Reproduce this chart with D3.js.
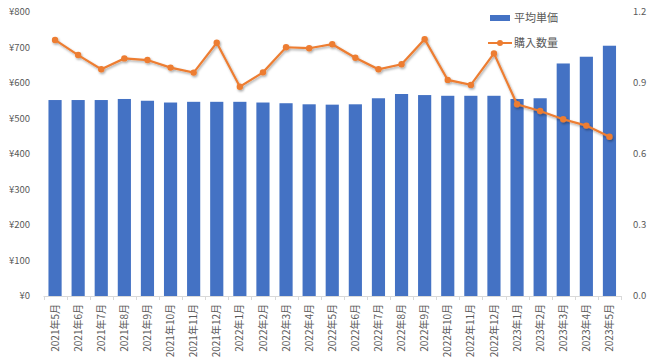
<!DOCTYPE html>
<html><head><meta charset="utf-8">
<script src="https://cdn.jsdelivr.net/npm/d3@7"></script>
<style>
body{margin:0;background:#fff;}
svg{display:block;font-family:"Noto Sans CJK JP","Noto Sans",sans-serif;}
</style></head>
<body>
<svg id="c" width="650" height="362"></svg>
<script>
const categories = ["2021年5月","2021年6月","2021年7月","2021年8月","2021年9月","2021年10月","2021年11月","2021年12月","2022年1月","2022年2月","2022年3月","2022年4月","2022年5月","2022年6月","2022年7月","2022年8月","2022年9月","2022年10月","2022年11月","2022年12月","2023年1月","2023年2月","2023年3月","2023年4月","2023年5月"];
const avgPrice = [552,552,552,555,550,545,547,547,547,545,543,540,539,540,557,569,566,564,564,564,555,557,655,674,705];
const quantity = [1.082,1.018,0.958,1.004,0.997,0.965,0.944,1.070,0.884,0.945,1.051,1.047,1.064,1.007,0.958,0.979,1.085,0.913,0.892,1.025,0.810,0.782,0.747,0.720,0.673];
const leftTicks = [0,100,200,300,400,500,600,700,800];
const rightTicks = [0,0.3,0.6,0.9,1.2];
const seriesNames = ["平均単価","購入数量"];

(function(){
const svg = d3.select("#c");
const pL = 43.5, pR = 621, pT = 12, pB = 296;
const x = d3.scaleBand().domain(categories).range([pL, pR]).paddingInner(0.43).paddingOuter(0.215);
const yL = d3.scaleLinear().domain([0,800]).range([pB, pT]);
const yR = d3.scaleLinear().domain([0,1.2]).range([pB, pT]);
const blue = "#4472C4", orange = "#ED7D31", txt = "#595959";

const defs = svg.append("defs");
const f = defs.append("filter").attr("id","sh").attr("x","-10%").attr("y","-10%").attr("width","120%").attr("height","140%");
f.append("feDropShadow").attr("dx",1).attr("dy",1.5).attr("stdDeviation",1.2).attr("flood-color","#000").attr("flood-opacity",0.35);

svg.append("g").selectAll("rect").data(avgPrice).join("rect")
  .attr("x",(d,i)=>x(categories[i]))
  .attr("width",x.bandwidth())
  .attr("y",d=>yL(d))
  .attr("height",d=>yL(0)-yL(d))
  .attr("fill",blue);

const step = x.step();
svg.append("line").attr("x1",pL).attr("x2",pR).attr("y1",pB+0.5).attr("y2",pB+0.5).attr("stroke","#d9d9d9");
const bounds = categories.map((c,i)=>x(c)-x.paddingInner()*step/2);
bounds.push(pR);
svg.append("g").selectAll("line").data(bounds).join("line")
  .attr("x1",d=>Math.round(d)+0.5).attr("x2",d=>Math.round(d)+0.5)
  .attr("y1",pB).attr("y2",pB+4).attr("stroke","#d9d9d9");

svg.append("g").selectAll("text").data(leftTicks).join("text")
  .attr("x",30).attr("y",d=>yL(d)).attr("dy","0.35em").attr("text-anchor","end")
  .attr("font-size",9.5).attr("fill",txt).text(d=>"¥"+d);
svg.append("g").selectAll("text").data(rightTicks).join("text")
  .attr("x",633).attr("y",d=>yR(d)).attr("dy","0.35em").attr("text-anchor","start")
  .attr("font-size",9.5).attr("fill",txt).text(d=>d.toFixed(1));

svg.append("g").selectAll("text").data(categories).join("text")
  .attr("transform",d=>`translate(${x(d)+x.bandwidth()/2+3.6},${pB+8}) rotate(-90)`)
  .attr("text-anchor","end").attr("font-size",10).attr("fill",txt).text(d=>d);

const line = d3.line().x((d,i)=>x(categories[i])+x.bandwidth()/2).y(d=>yR(d));
const lg = svg.append("g").attr("filter","url(#sh)");
lg.append("path").datum(quantity).attr("d",line).attr("fill","none").attr("stroke",orange).attr("stroke-width",2.2);
lg.selectAll("circle").data(quantity).join("circle")
  .attr("cx",(d,i)=>x(categories[i])+x.bandwidth()/2).attr("cy",d=>yR(d)).attr("r",3.2).attr("fill",orange);

const leg = svg.append("g");
leg.append("rect").attr("x",490).attr("y",15).attr("width",20).attr("height",6).attr("fill",blue);
leg.append("text").attr("x",514).attr("y",18).attr("dy","0.35em").attr("font-size",11).attr("fill",txt).text(seriesNames[0]);
leg.append("line").attr("x1",488).attr("x2",512).attr("y1",43).attr("y2",43).attr("stroke",orange).attr("stroke-width",2);
leg.append("circle").attr("cx",500).attr("cy",43).attr("r",3).attr("fill",orange);
leg.append("text").attr("x",514).attr("y",43).attr("dy","0.35em").attr("font-size",11).attr("fill",txt).text(seriesNames[1]);
})();
</script>
</body></html>
